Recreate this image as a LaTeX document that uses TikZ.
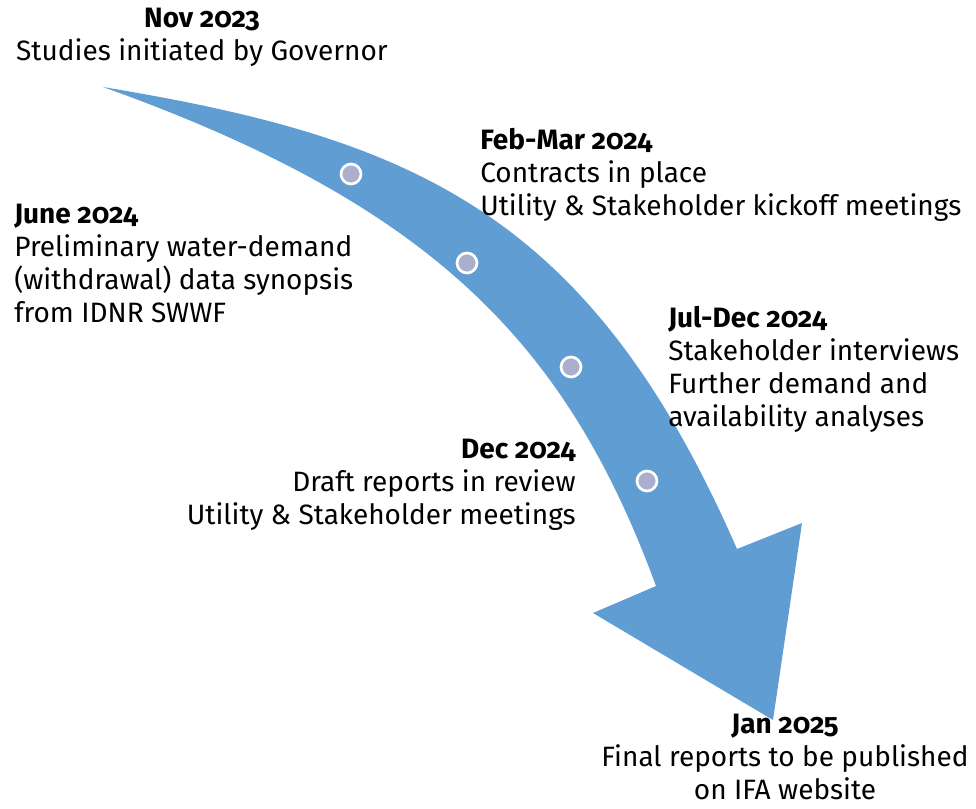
\documentclass[tikz,border=0pt]{standalone}
\usepackage{fontspec}
\setmainfont{Fira Sans}[Numbers=OldStyle]
\usepackage{xcolor}
\usepackage{tikz}
\usetikzlibrary{positioning}

\definecolor{arrowblue}{RGB}{95,157,210}
\definecolor{dotgrey}{RGB}{170,175,205}

\begin{document}
\begin{tikzpicture}[x=0.75pt, y=-0.75pt,
    milestone/.style={inner sep=0pt, font=\fontsize{21}{24.8}\selectfont},
    dot/.style={circle, draw=white, line width=2pt, fill=dotgrey,
                minimum size=15pt, inner sep=0pt}
  ]
  \useasboundingbox (0,0) rectangle (976,809);

  % curved timeline arrow
  \fill[arrowblue] (103,87) .. controls (410,138) and (589,210) .. (737,549)
    -- (802,523) -- (773,720) -- (593,613) -- (656,586)
    .. controls (567,344) and (433,205) .. (103,87) -- cycle;

  \node[dot] (m1) at (351,174) {};
  \node[dot] (m2) at (467,263) {};
  \node[dot] (m3) at (571,367) {};
  \node[dot] (m4) at (647,481) {};

  \node[milestone, anchor=north, align=center] (nov) at (202,8)
    {\textbf{Nov 2023}\\Studies initiated by Governor};
  \node[milestone, anchor=north west, align=left] (febmar) at (480,128)
    {\textbf{Feb-Mar 2024}\\Contracts in place\\Utility \& Stakeholder kickoff meetings};
  \node[milestone, anchor=north west, align=left] (june) at (14,204)
    {\textbf{June 2024}\\Preliminary water-demand\\(withdrawal) data synopsis\\from IDNR SWWF};
  \node[milestone, anchor=north west, align=left] (juldec) at (668,306)
    {\textbf{Jul-Dec 2024}\\Stakeholder interviews\\Further demand and\\availability analyses};
  \node[milestone, anchor=north east, align=right] (dec) at (576,439)
    {\textbf{Dec 2024}\\Draft reports in review\\Utility \& Stakeholder meetings};
  \node[milestone, anchor=north, align=center] (jan) at (785,714)
    {\textbf{Jan 2025}\\Final reports to be published\\on IFA website};
\end{tikzpicture}
\end{document}
